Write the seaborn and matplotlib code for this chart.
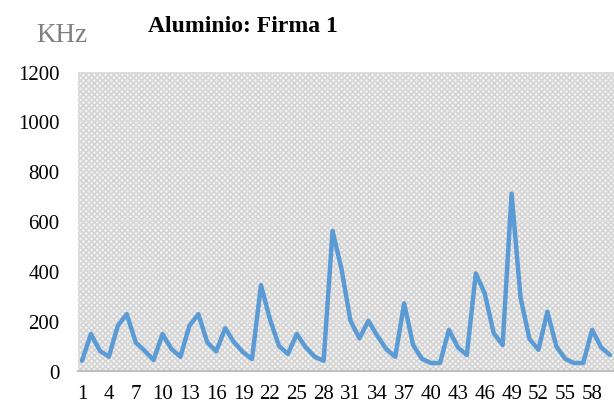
import matplotlib
matplotlib.use("Agg")
import matplotlib.pyplot as plt
import seaborn as sns
import pandas as pd
from matplotlib.patches import Rectangle

sns.set_theme(style="white")
plt.rcParams['font.family'] = ['Liberation Serif', 'DejaVu Serif']

samples = list(range(1, 61))
khz = [41, 148, 81, 57, 181, 228, 115, 81, 44, 148,
       88, 57, 181, 228, 115, 79, 171, 115, 75, 48,
       344, 208, 101, 68, 148, 95, 57, 41, 561, 408,
       201, 131, 201, 141, 88, 57, 271, 104, 48, 32,
       32, 165, 95, 64, 391, 311, 152, 104, 711, 295,
       128, 85, 237, 99, 48, 32, 32, 165, 95, 64]
xticks = list(range(1, 61, 3))
yticks = [0, 200, 400, 600, 800, 1000, 1200]
title = "Aluminio: Firma 1"
ylabel = "KHz"

df = pd.DataFrame({"muestra": samples, "khz": khz})

fig = plt.figure(figsize=(6.14, 4.06), dpi=100)
W, H = 614, 406
left, right, bottom, top = 77.5, 614.5, 372, 72.5
ax = fig.add_axes([left / W, (H - bottom) / H, (right - left) / W, (bottom - top) / H])

# patterned background
ax.add_patch(Rectangle((0, 0), 1, 1, transform=ax.transAxes, facecolor="#f0f0f0",
                       edgecolor="#d3d3d3", hatch="xxxxxx", linewidth=0, zorder=0))
for y in yticks[1:]:
    ax.axhline(y, color="#dcdcdc", linewidth=1.3, zorder=1)

sns.lineplot(data=df, x="muestra", y="khz", ax=ax, color="#5b9bd5", linewidth=3.2, zorder=3)

ax.set_xlim(0.5, 60.5)
ax.set_ylim(0, 1200)
ax.set_xticks(xticks)
ax.set_xticklabels([str(t) for t in xticks])
ax.set_yticks(yticks)
ax.set_yticklabels([str(t) for t in yticks])
ax.tick_params(axis="both", length=0, labelsize=15, colors="#000000")
ax.tick_params(axis="x", pad=9.5)
ax.tick_params(axis="y", pad=13)
ax.set_xlabel("")
ax.set_ylabel("")
for s in ["top", "right", "left"]:
    ax.spines[s].set_visible(False)
ax.spines["bottom"].set_color("#bfbfbf")
ax.spines["bottom"].set_linewidth(1.5)
ax.set_facecolor("white")

fig.text(148 / W, 1 - 27 / H, title, fontsize=17, fontweight="bold", ha="left", va="center",
         color="black")
fig.text(36 / W, 1 - 36 / H, ylabel, fontsize=19.5, ha="left", va="center", color="#7f7f7f")

fig.savefig("out.png", dpi=100)
